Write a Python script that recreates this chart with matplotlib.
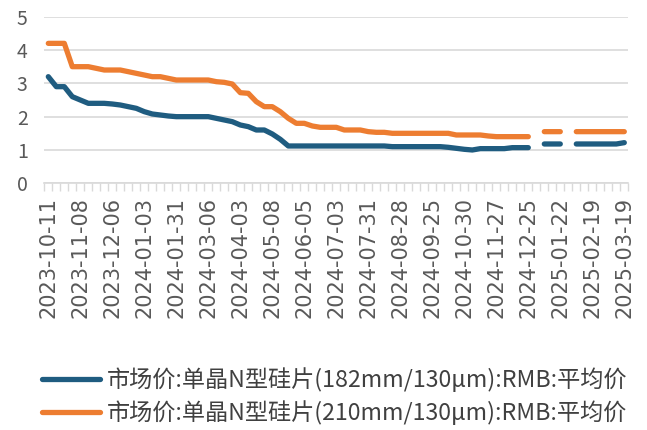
import matplotlib
matplotlib.use("Agg")
import matplotlib.pyplot as plt
import numpy as np

plt.rcParams["font.family"] = ["Noto Sans CJK SC", "DejaVu Sans"]

nan = np.nan

# weekly categories (73), labels shown every 4th category
tick_labels = ['2023-10-11', '2023-11-08', '2023-12-06', '2024-01-03', '2024-01-31',
               '2024-03-06', '2024-04-03', '2024-05-08', '2024-06-05', '2024-07-03',
               '2024-07-31', '2024-08-28', '2024-09-25', '2024-10-30', '2024-11-27',
               '2024-12-25', '2025-01-22', '2025-02-19', '2025-03-19']

price_182 = [3.2, 2.9, 2.9, 2.6, 2.5, 2.4, 2.4, 2.4, 2.38, 2.35,
             2.3, 2.25, 2.15, 2.08, 2.05, 2.02, 2.0, 2.0, 2.0, 2.0,
             2.0, 1.95, 1.9, 1.85, 1.75, 1.7, 1.6, 1.6, 1.48, 1.32,
             1.12, 1.12, 1.12, 1.12, 1.12, 1.12, 1.12, 1.12, 1.12, 1.12,
             1.12, 1.12, 1.12, 1.1, 1.1, 1.1, 1.1, 1.1, 1.1, 1.1,
             1.08, 1.05, 1.02, 1.0, 1.04, 1.04, 1.04, 1.04, 1.07, 1.07,
             1.07, nan, 1.18, 1.18, 1.18, nan, 1.18, 1.18, 1.18, 1.18,
             1.18, 1.18, 1.22]

price_210 = [4.2, 4.2, 4.2, 3.5, 3.5, 3.5, 3.45, 3.4, 3.4, 3.4,
             3.35, 3.3, 3.25, 3.2, 3.2, 3.15, 3.1, 3.1, 3.1, 3.1,
             3.1, 3.05, 3.03, 2.98, 2.72, 2.7, 2.45, 2.3, 2.3, 2.15,
             1.95, 1.8, 1.8, 1.72, 1.68, 1.68, 1.68, 1.6, 1.6, 1.6,
             1.55, 1.53, 1.53, 1.5, 1.5, 1.5, 1.5, 1.5, 1.5, 1.5,
             1.5, 1.45, 1.45, 1.45, 1.45, 1.42, 1.4, 1.4, 1.4, 1.4,
             1.4, nan, 1.55, 1.55, 1.55, nan, 1.55, 1.55, 1.55, 1.55,
             1.55, 1.55, 1.55]

labels = ['市场价:单晶N型硅片(182mm/130μm):RMB:平均价',
          '市场价:单晶N型硅片(210mm/130μm):RMB:平均价']
colors = ['#1F5C80', '#ED7D31']

x = np.arange(len(price_182))

fig = plt.figure(figsize=(6.47, 4.30), dpi=100)
ax = fig.add_axes([44.3 / 647, 1 - 183.3 / 430, 584 / 647, 166.6 / 430])

for y, c, lab in zip([price_182, price_210], colors, labels):
    ax.plot(x, y, color=c, linewidth=3.8, solid_capstyle='round',
            solid_joinstyle='round', label=lab)

ax.set_xlim(-0.5, len(x) - 0.5)
ax.set_ylim(0, 5)
ax.set_yticks(range(0, 6))
ax.grid(axis='y', color='#D9D9D9', linewidth=1.2)
ax.set_axisbelow(True)
for s in ['top', 'right', 'left']:
    ax.spines[s].set_visible(False)
ax.spines['bottom'].set_color('#D9D9D9')
ax.spines['bottom'].set_linewidth(1.2)

ax.set_xticks(x[::4])
ax.set_xticklabels(tick_labels, rotation=90, family='DejaVu Sans')
ax.set_xticks(np.arange(-0.5, len(x)), minor=True)
ax.tick_params(axis='x', which='major', length=0, pad=10, labelsize=15,
               labelcolor='#595959')
ax.tick_params(axis='x', which='minor', length=6, width=1, color='#D9D9D9')
ax.tick_params(axis='y', length=0, pad=12, labelsize=14, labelcolor='#595959')

handles, labs = ax.get_legend_handles_labels()
fig.legend(handles, labs, loc='lower left', bbox_to_anchor=(42 / 647, 0.012),
           frameon=False, fontsize=16.7, handlelength=2.5, handletextpad=0.3,
           labelspacing=0.35, borderpad=0, borderaxespad=0,
           labelcolor='#404040')

fig.savefig('out.png', dpi=100)
